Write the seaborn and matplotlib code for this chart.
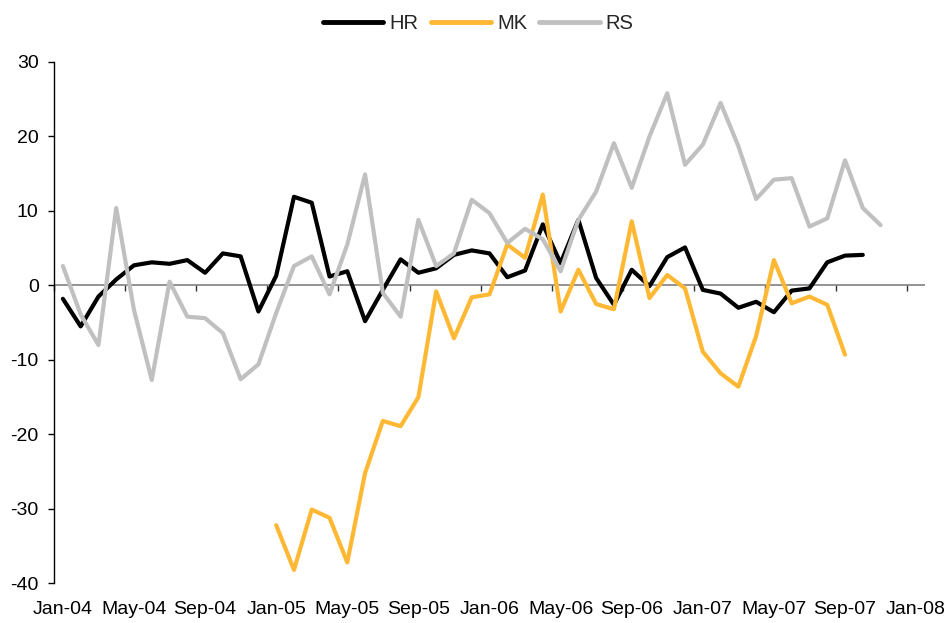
import numpy as np
import pandas as pd
import seaborn as sns
import matplotlib.pyplot as plt

# monthly values, Jan-04 onwards (month index 0 = Jan-04)
hr = [-1.8, -5.5, -1.5, 0.8, 2.7, 3.1, 2.9, 3.4, 1.7, 4.3, 3.9, -3.5,
      1.3, 11.9, 11.1, 1.2, 1.9, -4.8, -0.6, 3.5, 1.7, 2.3, 4.1, 4.7,
      4.3, 1.1, 2.0, 8.2, 3.0, 8.8, 1.0, -2.6, 2.1, -0.1, 3.8, 5.1,
      -0.6, -1.1, -3.0, -2.2, -3.6, -0.7, -0.4, 3.1, 4.0, 4.1]
# MK starts Jan-05 (index 12)
mk_start = 12
mk = [-32.2, -38.2, -30.1, -31.2, -37.2, -25.2, -18.2, -18.9, -15.0, -0.8, -7.1, -1.6,
      -1.2, 5.5, 3.7, 12.2, -3.5, 2.1, -2.5, -3.2, 8.6, -1.7, 1.4, -0.4,
      -8.9, -11.8, -13.6, -6.8, 3.4, -2.4, -1.5, -2.6, -9.3]
rs = [2.6, -3.9, -8.0, 10.4, -3.3, -12.7, 0.5, -4.2, -4.4, -6.4, -12.6, -10.6,
      -3.7, 2.6, 3.9, -1.2, 5.5, 14.9, -1.0, -4.2, 8.8, 2.6, 4.3, 11.5,
      9.7, 5.7, 7.6, 6.2, 1.9, 8.8, 12.6, 19.1, 13.1, 20.0, 25.8, 16.2,
      18.9, 24.5, 18.7, 11.6, 14.2, 14.4, 7.9, 9.0, 16.8, 10.4, 8.1]

tick_labels = ["Jan-04", "May-04", "Sep-04", "Jan-05", "May-05", "Sep-05", "Jan-06",
               "May-06", "Sep-06", "Jan-07", "May-07", "Sep-07", "Jan-08"]
n_months = 49

frames = [
    pd.DataFrame({"month": np.arange(len(hr)), "value": hr, "series": "HR"}),
    pd.DataFrame({"month": np.arange(mk_start, mk_start + len(mk)), "value": mk, "series": "MK"}),
    pd.DataFrame({"month": np.arange(len(rs)), "value": rs, "series": "RS"}),
]
df = pd.concat(frames, ignore_index=True)

sns.set_theme(style="white")
plt.rcParams["font.family"] = ["Liberation Sans", "DejaVu Sans"]
plt.rcParams["axes.unicode_minus"] = False

fig = plt.figure(figsize=(9.49, 6.23), dpi=100)
ax = fig.add_axes([54 / 949, 0.0637, 871 / 949, 0.8368])

# zero line under the series
ax.axhline(0, color="#808080", linewidth=1.2, zorder=1)

palette = {"HR": "#000000", "MK": "#FFB833", "RS": "#C0C0C0"}
sns.lineplot(data=df, x="month", y="value", hue="series", palette=palette,
             linewidth=3, errorbar=None, ax=ax,
             solid_capstyle="round", solid_joinstyle="round")

ax.set_xlim(-0.5, n_months - 0.5)
ax.set_ylim(-40, 30)
ax.set_yticks(np.arange(-40, 31, 10))
ax.set_xticks(np.arange(0, n_months, 4))
ax.set_xticklabels(tick_labels)
ax.set_xlabel("")
ax.set_ylabel("")

for s in ["top", "right", "bottom"]:
    ax.spines[s].set_visible(False)
ax.spines["left"].set_color("black")
ax.spines["left"].set_linewidth(1.0)

ax.tick_params(axis="x", length=0, pad=13, labelsize=14, colors="black")
ax.tick_params(axis="y", direction="out", length=4, width=1, pad=7,
               labelsize=14, colors="black", left=True)

# category tick marks on the axis crossing at zero
zax = ax.secondary_xaxis(40 / 70)
zax.set_xticks(np.arange(-0.5, n_months, 4))
zax.xaxis.set_ticks_position("bottom")
zax.tick_params(axis="x", direction="out", length=4, width=1, color="#303030",
                labelbottom=False, labeltop=False)
for s in zax.spines.values():
    s.set_visible(False)

handles, labels = ax.get_legend_handles_labels()
ax.get_legend().remove()
leg = fig.legend(handles, labels, loc="center", bbox_to_anchor=(0.504, 0.963),
                 ncol=3, frameon=False, fontsize=14.5, handlelength=3.0,
                 handletextpad=0.3, columnspacing=0.6)
for h in leg.legend_handles:
    h.set_linewidth(3.5)

fig.savefig("out.png", dpi=100)
